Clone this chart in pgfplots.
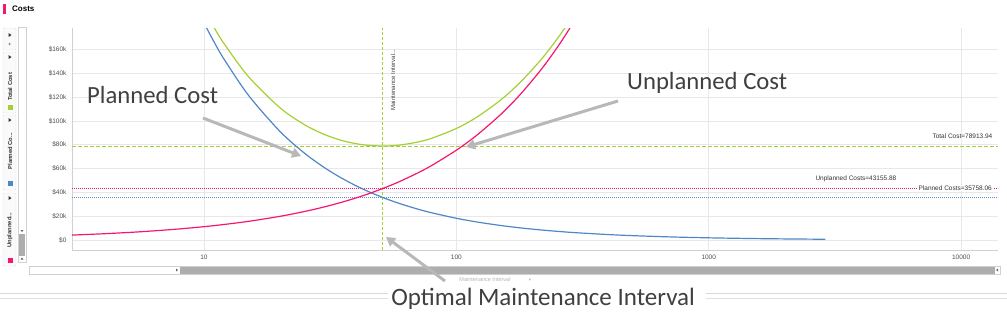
\documentclass[border=0pt]{standalone}
\usepackage{pgfplots}
\pgfplotsset{compat=1.18}
\usepackage{fontspec}
\setmainfont{Liberation Sans}
\newfontfamily\calibri{Carlito}
\newfontfamily\djv{DejaVu Sans}
\usetikzlibrary{arrows.meta}
\definecolor{pinkc}{HTML}{F5176F}
\definecolor{bluec}{HTML}{4F87C6}
\definecolor{bluedot}{HTML}{5A8FCC}
\definecolor{greenc}{HTML}{A3D133}
\definecolor{gridc}{HTML}{E8E8E8}
\definecolor{axc}{HTML}{D0D0D0}
\definecolor{arrc}{HTML}{B8B8B8}
\definecolor{annc}{HTML}{404040}
\definecolor{tickc}{HTML}{505050}
\definecolor{barc}{HTML}{ADADAD}
\begin{document}
\begin{tikzpicture}[x=1pt,y=1pt]
\useasboundingbox (0,0) rectangle (1007,317);
% header
\fill[pinkc] (3,303) rectangle (6,313);
\node[anchor=west,font=\bfseries\fontsize{8}{9}\selectfont,inner sep=0] at (12,308) {Costs};
% left sidebar
\foreach \a/\b in {289/267, 265/204, 202/127, 124/51}{
  \draw[axc!70, fill=gray!4, rounded corners=1pt] (3,\b) rectangle (16,\a);
}
\foreach \yy in {282,260,197,119}{
  \fill[black!80] (8.5,\yy-2) -- (8.5,\yy+2) -- (11.5,\yy) -- cycle;
}
\node[font=\fontsize{6}{6}\selectfont, text=black!70, inner sep=0] at (10,272) {+};
\node[rotate=90, font=\bfseries\fontsize{5.8}{6}\selectfont, text=black!80, inner sep=0] at (10,230) {Total Cost};
\node[rotate=90, font=\bfseries\fontsize{5.8}{6}\selectfont, text=black!80, inner sep=0] at (10,166) {Planned Co...};
\node[rotate=90, font=\bfseries\fontsize{5.8}{6}\selectfont, text=black!80, inner sep=0] at (10,87) {Unplanned...};
\fill[greenc] (7.5,207.5) rectangle (12.5,212.5);
\fill[bluec] (7.5,131.5) rectangle (12.5,136.5);
\fill[pinkc] (7.5,54.5) rectangle (12.5,59.5);
\draw[axc, fill=white] (18,55) rectangle (26,290);
\fill[barc] (19,61) rectangle (25,83);
\fill[black!60] (20.5,87) -- (23.5,87) -- (22,85) -- cycle;
\fill[black!60] (20.5,57.5) -- (23.5,57.5) -- (22,59.5) -- cycle;

\begin{axis}[
  at={(72pt,67pt)}, anchor=south west, scale only axis,
  width=926pt, height=222pt,
  xmode=log, xmin=3, xmax=14000, ymin=-8400, ymax=178000,
  scaled y ticks=false,
  axis x line*=bottom, axis y line*=left,
  axis line style={axc, line width=0.7pt},
  grid=major, major grid style={gridc, line width=0.7pt},
  minor tick num=0, xminorgrids=false,
  major tick length=0pt, minor tick length=0pt,
  xtick={10,100,1000,10000}, xticklabels={10,100,1000,10000},
  ytick={0,20000,40000,60000,80000,100000,120000,140000,160000},
  yticklabels={\$0,\$20k,\$40k,\$60k,\$80k,\$100k,\$120k,\$140k,\$160k},
  ticklabel style={font=\fontsize{6.5}{7}\selectfont, text=tickc},
  yticklabel style={xshift=-2pt},
  xticklabel style={yshift=-1pt},
  clip=true,
]
% reference lines
\addplot[greenc, line width=0.9pt, dash pattern=on 4pt off 2pt] coordinates {(3,78913.94) (14000,78913.94)};
\addplot[pinkc, line width=1pt, dash pattern=on 1.2pt off 0.8pt] coordinates {(3,43155.88) (14000,43155.88)};
\addplot[bluedot, line width=1pt, dash pattern=on 1.2pt off 0.8pt] coordinates {(3,35758.06) (14000,35758.06)};
\addplot[greenc, line width=0.9pt, dash pattern=on 3pt off 2pt] coordinates {(51,-8400) (51,178000)};
% total cost
\addplot[greenc, line width=1.2pt, smooth] coordinates {
(9,212882) (10,193555) (11,177895) (12,164985) (15,137232) (20,111052) (25,96851) (30,88594) (35,83697) (40,80879) (45,79430) (51,78914) (55,79100) (60,79770) (70,82155) (80,85464) (100,93630) (120,102882) (150,117655) (180,132833) (220,153195) (260,173422) (300,193434)};
% planned cost
\addplot[bluec, line width=1.2pt, smooth] coordinates {
(9,202629) (10,182366) (11,165787) (12,151972) (15,121577) (20,91183) (25,72946) (30,60789) (35,52105) (40,45592) (45,40526) (51,35758) (55,33158) (60,30394) (70,26052) (80,22796) (100,18237) (120,15197) (150,12158) (180,10131) (220,8289) (260,7014) (300,6079) (400,4559) (500,3647) (700,2605) (1000,1824) (1500,1216) (2000,912) (2900,629)};
% unplanned cost
\addplot[pinkc, line width=1.2pt, smooth] coordinates {
(3,4126) (4,5236) (5,6300) (6,7327) (8,9299) (10,11189) (12,13013) (15,15655) (20,19869) (25,23905) (30,27805) (35,31592) (40,35287) (45,38904) (51,43156) (55,45942) (60,49376) (70,56103) (80,62668) (100,75393) (120,87685) (150,105497) (180,122702) (220,144906) (260,166408) (300,187355)};
\end{axis}

% reference line labels
\node[anchor=east, font=\fontsize{6.5}{7}\selectfont, text=black!80, inner sep=0.5pt] at (993,181) {Total Cost=78913.94};
\node[anchor=east, font=\fontsize{6.5}{7}\selectfont, text=black!80, inner sep=0.5pt] at (897,138) {Unplanned Costs=43155.88};
\node[anchor=east, font=\fontsize{6.5}{7}\selectfont, text=black!80, fill=white, inner sep=1pt] at (993,129) {Planned Costs=35758.06};
\node[rotate=90, font=\fontsize{6}{6}\selectfont, text=black!75, inner sep=0] at (393,237) {Maintenance Interval...};

% horizontal scrollbar
\draw[axc, fill=white] (29,43) rectangle (1000,51);
\fill[barc] (180,43.5) rectangle (995,50.5);
\fill[black!60] (176,45.5) -- (176,48.5) -- (178,47) -- cycle;
\fill[black!60] (998,45.5) -- (998,48.5) -- (996,47) -- cycle;
\node[font=\fontsize{5.5}{6}\selectfont, text=black!30, inner sep=0] at (485,37) {Maintenance Interval};
\node[font=\djv\fontsize{4.5}{5}\selectfont, text=black!30, inner sep=0] at (530,37) {▾};

% separator lines
\draw[black!15, line width=0.8pt] (0,24) -- (1007,24);
\draw[black!12, line width=0.8pt] (0,19) -- (1007,19);

% annotations
\node[anchor=base west, font=\calibri\fontsize{24.7}{26}\selectfont, text=annc, inner sep=0] at (87,214) {Planned Cost};
\node[anchor=base west, font=\calibri\fontsize{24.7}{26}\selectfont, text=annc, inner sep=0] at (627,228) {Unplanned Cost};
\node[anchor=base west, font=\calibri\fontsize{25}{26}\selectfont, text=annc, fill=white, inner sep=0, outer sep=0, text depth=6pt, text height=20pt] at (388,12) {\hspace{-8pt}\ \ Optimal Maintenance Interval\ \ \hspace{-4pt}};
\draw[arrc, line width=3pt, -{Triangle[width=10pt,length=9pt]}] (203,199) -- (301,161);
\draw[arrc, line width=3pt, -{Triangle[width=10pt,length=9pt]}] (618,216) -- (466,170);
\draw[arrc, line width=3pt, -{Triangle[width=10pt,length=9pt]}] (445,36) -- (386,80);
\end{tikzpicture}
\end{document}
